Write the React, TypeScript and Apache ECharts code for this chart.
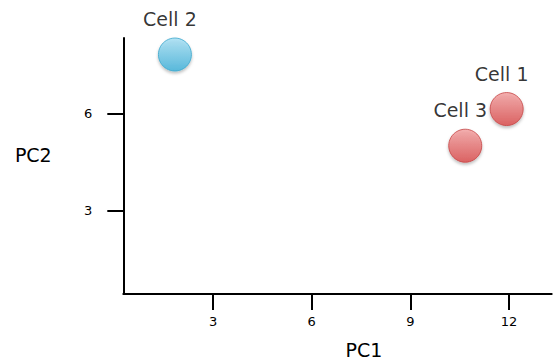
import React, { useEffect, useRef } from "react";
import * as echarts from "echarts";

const cellNames = ["Cell 1", "Cell 2", "Cell 3"];
const pc1Values = [11.93, 1.84, 10.67];
const pc2Values = [6.13, 7.81, 5.0];
const cellGroups = ["red", "blue", "red"];
const xTicks = [3, 6, 9, 12];
const yTicks = [3, 6];

const FONT = "DejaVu Sans";

const redFill = new echarts.graphic.LinearGradient(0, 0, 0, 1, [
  { offset: 0, color: "#f4a0a0" },
  { offset: 1, color: "#d94848" },
]);
const blueFill = new echarts.graphic.LinearGradient(0, 0, 0, 1, [
  { offset: 0, color: "#a6e0f5" },
  { offset: 1, color: "#3cb0d9" },
]);

export default function App() {
  const ref = useRef<HTMLDivElement>(null);
  useEffect(() => {
    if (!ref.current) return;
    const chart = echarts.init(ref.current, null, { renderer: "svg" });
    const data = cellNames.map((n, i) => ({
      name: n,
      value: [pc1Values[i], pc2Values[i]],
      itemStyle: {
        color: cellGroups[i] === "red" ? redFill : blueFill,
        borderColor: cellGroups[i] === "red" ? "#c44444" : "#3aa6cc",
        borderWidth: 1,
        shadowColor: "rgba(0,0,0,0.3)",
        shadowBlur: 3,
        shadowOffsetY: 2,
      },
    }));
    chart.setOption({
      animation: false,
      textStyle: { fontFamily: FONT },
      grid: { left: 123.3, right: 4.3, top: 38, bottom: 70 },
      xAxis: {
        type: "value",
        min: 0.27,
        max: 13.3,
        splitLine: { show: false },
        axisLine: { show: true, onZero: false, lineStyle: { color: "#000", width: 2 } },
        axisTick: { show: true, customValues: xTicks, length: 16, lineStyle: { color: "#000", width: 2 } },
        axisLabel: { customValues: xTicks, margin: 21, fontSize: 13, color: "#000", fontFamily: FONT },
      },
      yAxis: {
        type: "value",
        min: 0.43,
        max: 8.32,
        splitLine: { show: false },
        axisLine: { show: true, onZero: false, lineStyle: { color: "#000", width: 2 } },
        axisTick: { show: true, customValues: yTicks, length: 16, lineStyle: { color: "#000", width: 2 } },
        axisLabel: { customValues: yTicks, margin: 31, fontSize: 13, color: "#000", fontFamily: FONT },
      },
      graphic: [
        {
          type: "text",
          x: 364,
          y: 350,
          style: { text: "PC1", fontSize: 19, fontFamily: FONT, fill: "#000", align: "center", verticalAlign: "middle" },
        },
        {
          type: "text",
          x: 33.3,
          y: 155,
          style: { text: "PC2", fontSize: 19, fontFamily: FONT, fill: "#000", align: "center", verticalAlign: "middle" },
        },
      ],
      series: [
        {
          type: "scatter",
          symbolSize: 33,
          data,
          label: {
            show: true,
            position: "top",
            distance: 9,
            offset: [-5, 0],
            formatter: "{b}",
            fontSize: 19,
            fontFamily: FONT,
            color: "#000",
            textBorderWidth: 0,
          },
        },
      ],
    });
    return () => chart.dispose();
  }, []);
  return <div ref={ref} style={{ width: 556, height: 364, position: "absolute", left: 0, top: 0 }} />;
}
